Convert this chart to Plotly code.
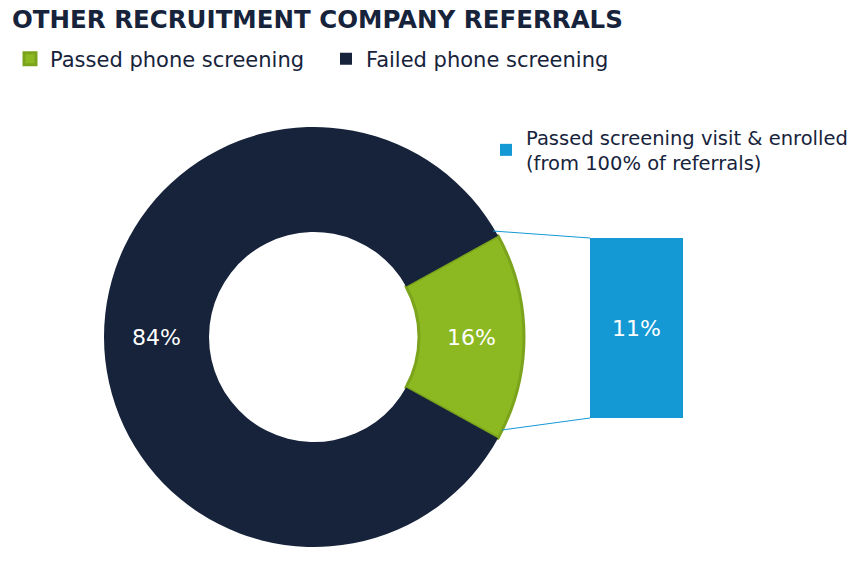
import plotly.graph_objects as go

title = "OTHER RECRUITMENT COMPANY REFERRALS"
pie_labels = ["Passed phone screening", "Failed phone screening"]
pie_values = [16, 84]
bar_label = "Passed screening visit & enrolled<br>(from 100% of referrals)"
bar_value = [11]

NAVY = "#16233b"
GREEN = "#8cb822"
GREEN_EDGE = "#7ba41c"
BLUE = "#1499d5"
FONT = "DejaVu Sans"
W, H = 856, 563

def px(x):
    return x / W

def py(y):
    return 1 - y / H

fig = go.Figure()

fig.add_trace(go.Pie(
    labels=pie_labels,
    values=pie_values,
    hole=0.5,
    sort=False,
    direction="clockwise",
    rotation=90 - 360 * pie_values[0] / sum(pie_values) / 2,
    marker=dict(colors=[GREEN, NAVY], line=dict(color=[GREEN_EDGE, NAVY], width=[3, 0])),
    texttemplate="%{percent:.0%}",
    textposition="inside",
    insidetextorientation="horizontal",
    textfont=dict(color="white", size=22, family=FONT),
    domain=dict(x=[px(104), px(524)], y=[py(547), py(127)]),
    legend="legend",
    hoverinfo="label+percent",
))

fig.add_trace(go.Bar(
    x=[0],
    y=bar_value,
    name=bar_label,
    width=1,
    marker=dict(color=BLUE, line=dict(width=0)),
    text=[f"{v}%" for v in bar_value],
    textposition="inside",
    insidetextanchor="middle",
    textfont=dict(color="white", size=22, family=FONT),
    xaxis="x",
    yaxis="y",
    legend="legend2",
    showlegend=True,
))

# connector lines from pie slice to bar
fig.add_shape(type="line", xref="paper", yref="paper",
              x0=px(493), y0=py(231), x1=px(590), y1=py(238),
              line=dict(color=BLUE, width=1))
fig.add_shape(type="line", xref="paper", yref="paper",
              x0=px(502), y0=py(430), x1=px(590), y1=py(418),
              line=dict(color=BLUE, width=1))

fig.update_layout(
    width=W, height=H,
    margin=dict(l=0, r=0, t=0, b=0),
    paper_bgcolor="white",
    plot_bgcolor="white",
    font=dict(family=FONT, color=NAVY),
    title=dict(text="<b>" + title + "</b>", x=px(12), xanchor="left",
               y=py(19), yanchor="middle",
               font=dict(size=24.5, family=FONT, color=NAVY)),
    xaxis=dict(domain=[px(590), px(683)], range=[-0.5, 0.5], visible=False, fixedrange=True),
    yaxis=dict(domain=[py(418), py(238)], range=[0, bar_value[0]], visible=False, fixedrange=True),
    legend=dict(orientation="h", x=px(10), xanchor="left", y=py(59), yanchor="middle",
                font=dict(size=21, color=NAVY), entrywidth=271, entrywidthmode="pixels",
                traceorder="normal", bgcolor="rgba(0,0,0,0)"),
    legend2=dict(x=px(486), xanchor="left", y=py(150), yanchor="middle",
                 font=dict(size=19.5, color=NAVY), bgcolor="rgba(0,0,0,0)"),
    showlegend=True,
    bargap=0,
)

fig.write_html("out.html",
               config={"displayModeBar": False},
               post_script="document.body.style.margin='0';document.body.style.overflow='hidden';")
